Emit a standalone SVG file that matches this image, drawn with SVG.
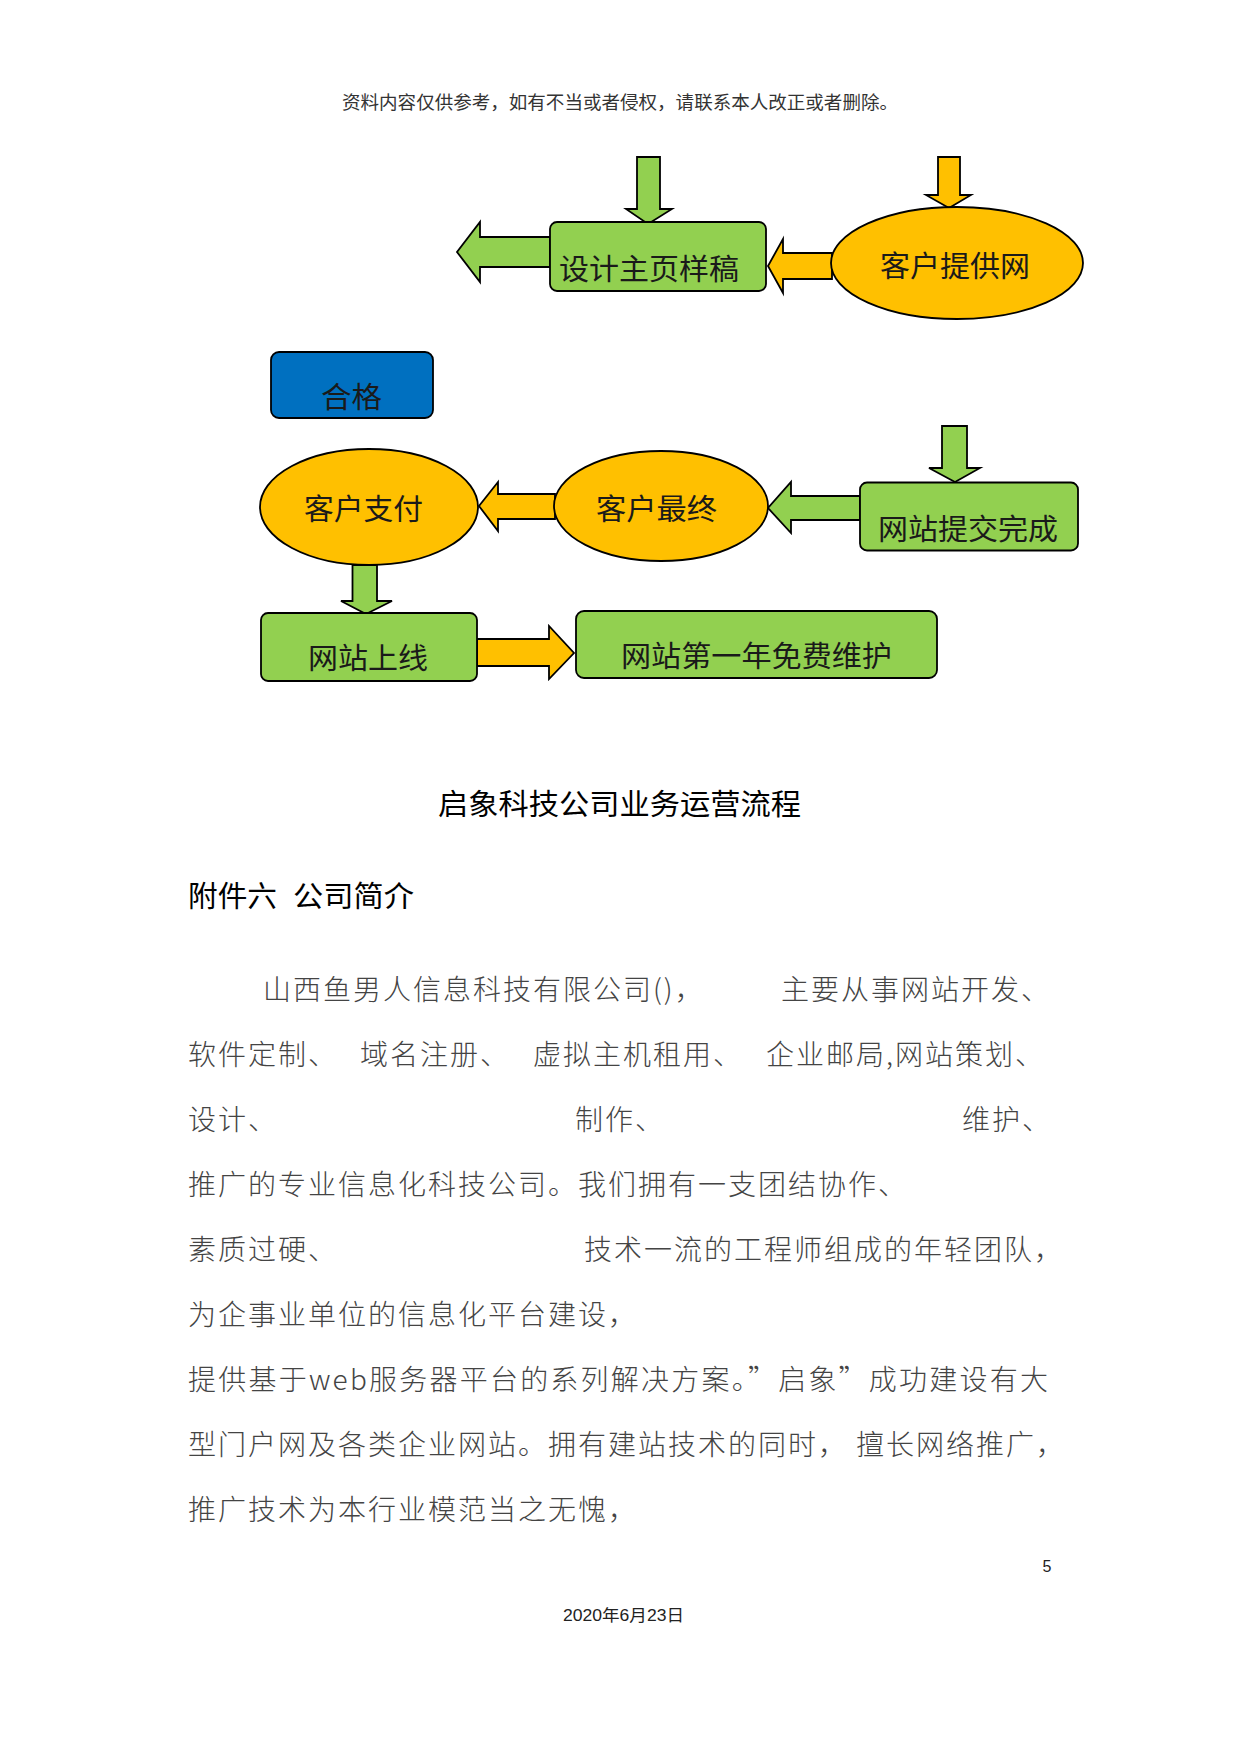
<svg xmlns="http://www.w3.org/2000/svg" width="1241" height="1754" viewBox="0 0 1241 1754">
<style>
.bg{fill:#ffffff}
.g{fill:#92D050;stroke:#000;stroke-width:1.8}
.o{fill:#FFC000;stroke:#000;stroke-width:1.8}
.b{fill:#0070C0;stroke:#000;stroke-width:1.8}
.lbl{font-family:"Noto Sans CJK SC","Liberation Sans",sans-serif;font-size:29px;fill:#1a1a1a}
.body{font-family:"Noto Sans CJK SC","Liberation Sans",sans-serif;font-size:28px;font-weight:300;fill:#444;letter-spacing:2px}
.head{font-family:"Liberation Serif","Noto Sans CJK SC",serif;font-size:18.5px;fill:#333}
.foot{font-family:"Liberation Sans","Noto Sans CJK SC",sans-serif;font-size:16px;fill:#222}
.ttl{font-family:"Noto Sans CJK SC","Liberation Sans",sans-serif;font-size:29px;fill:#000}
</style>
<rect class="bg" x="0" y="0" width="1241" height="1754"/>
<text class="head" x="342" y="109" textLength="556" lengthAdjust="spacingAndGlyphs">资料内容仅供参考，如有不当或者侵权，请联系本人改正或者删除。</text>

<g id="connectors">
  <polygon class="g" points="637,157 660,157 660,209 672,209 648,224 626,209 637,209"/>
  <polygon class="o" points="938,157 960,157 960,195 971,195 949,208 926,195 938,195"/>
  <polygon class="g" points="550,237 480,237 480,222 457,252 480,282 480,267 550,267"/>
  <polygon class="o" points="832,253 783,253 783,239 768,266 783,293 783,279 832,279"/>
  <polygon class="g" points="942,426 967,426 967,468 980,468 955,482 929,468 942,468"/>
  <polygon class="g" points="860,496 791,496 791,482 768,508 791,533 791,520 860,520"/>
  <polygon class="o" points="555,494 498,494 498,482 479,506 498,531 498,519 555,519"/>
  <polygon class="g" points="352.5,565 377,565 377,601 392,601 366,614 341,601 352.5,601"/>
  <polygon class="o" points="477,639 549,639 549,626 574,653 549,679 549,666 477,666"/>
</g>

<g id="node-design">
  <rect class="g" x="550" y="222" width="216" height="69" rx="7"/>
  <text class="lbl" x="559" y="280" textLength="180" lengthAdjust="spacingAndGlyphs">设计主页样稿</text>
</g>
<g id="node-provide">
  <ellipse class="o" cx="957" cy="263" rx="126" ry="56"/>
  <text class="lbl" x="880" y="277" textLength="150" lengthAdjust="spacingAndGlyphs">客户提供网</text>
</g>
<g id="node-pass">
  <rect class="b" x="271" y="352" width="162" height="66" rx="8"/>
  <text class="lbl" x="321" y="408" textLength="61" lengthAdjust="spacingAndGlyphs">合格</text>
</g>
<g id="node-pay">
  <ellipse class="o" cx="369" cy="507" rx="109" ry="58"/>
  <text class="lbl" x="304" y="520" textLength="119" lengthAdjust="spacingAndGlyphs">客户支付</text>
</g>
<g id="node-final">
  <ellipse class="o" cx="661" cy="506" rx="107" ry="55"/>
  <text class="lbl" x="596" y="520" textLength="121" lengthAdjust="spacingAndGlyphs">客户最终</text>
</g>
<g id="node-submit">
  <rect class="g" x="860" y="482.5" width="218" height="68" rx="7"/>
  <text class="lbl" x="878" y="540" textLength="180" lengthAdjust="spacingAndGlyphs">网站提交完成</text>
</g>
<g id="node-online">
  <rect class="g" x="261" y="613" width="216" height="68" rx="7"/>
  <text class="lbl" x="308" y="669" textLength="120" lengthAdjust="spacingAndGlyphs">网站上线</text>
</g>
<g id="node-maintain">
  <rect class="g" x="576" y="611" width="361" height="67" rx="8"/>
  <text class="lbl" x="621" y="667" textLength="271" lengthAdjust="spacingAndGlyphs">网站第一年免费维护</text>
</g>

<text class="ttl" x="438" y="815" textLength="363" lengthAdjust="spacingAndGlyphs">启象科技公司业务运营流程</text>
<text class="ttl" x="188" y="907" textLength="89" lengthAdjust="spacingAndGlyphs">附件六</text>
<text class="ttl" x="293" y="907" textLength="121" lengthAdjust="spacingAndGlyphs">公司简介</text>

<text class="body" x="263" y="1000">山西鱼男人信息科技有限公司()，</text>
<text class="body" x="781" y="1000">主要从事网站开发、</text>
<text class="body" x="188" y="1065">软件定制、</text>
<text class="body" x="360" y="1065">域名注册、</text>
<text class="body" x="533" y="1065">虚拟主机租用、</text>
<text class="body" x="766" y="1065">企业邮局,网站策划、</text>
<text class="body" x="188" y="1130">设计、</text>
<text class="body" x="575" y="1130">制作、</text>
<text class="body" x="962" y="1130">维护、</text>
<text class="body" x="188" y="1195">推广的专业信息化科技公司。我们拥有一支团结协作、</text>
<text class="body" x="188" y="1260">素质过硬、</text>
<text class="body" x="584" y="1260">技术一流的工程师组成的年轻团队，</text>
<text class="body" x="188" y="1325">为企事业单位的信息化平台建设，</text>
<text class="body" x="188" y="1390" textLength="862" lengthAdjust="spacing">提供基于web服务器平台的系列解决方案。”启象”成功建设有大</text>
<text class="body" x="188" y="1455">型门户网及各类企业网站。拥有建站技术的同时，</text>
<text class="body" x="856" y="1455">擅长网络推广，</text>
<text class="body" x="188" y="1520">推广技术为本行业模范当之无愧，</text>

<text class="foot" x="1047" y="1572" text-anchor="middle">5</text>
<text class="foot" x="563" y="1621" textLength="121" lengthAdjust="spacingAndGlyphs">2020年6月23日</text>
</svg>
